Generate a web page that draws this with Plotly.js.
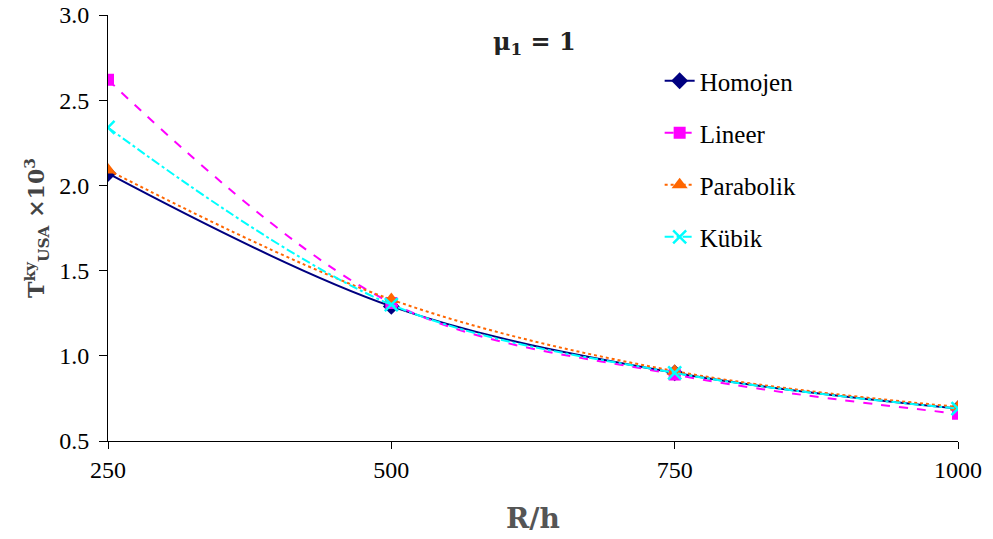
<!DOCTYPE html>
<html><head><meta charset="utf-8">
<script src="https://cdn.plot.ly/plotly-3.0.1.min.js"></script>
<style>html,body{margin:0;padding:0;background:#fff}#chart{width:993px;height:539px}</style>
</head><body><div id="chart"></div>
<script>
const xValues = [250, 500, 750, 1000];
const homojen = [2.07, 1.29, 0.90, 0.69];
const lineer = [2.62, 1.31, 0.89, 0.66];
const parabolik = [2.09, 1.33, 0.91, 0.70];
const kubik = [2.34, 1.30, 0.90, 0.69];
const seriesNames = ['Homojen', 'Lineer', 'Parabolik', 'Kübik'];
const xTicks = [250, 500, 750, 1000];
const yTicks = [0.5, 1.0, 1.5, 2.0, 2.5, 3.0];

const styles = [
  {color:'#000080', dash:'solid', symbol:'diamond', size:13, mline:0},
  {color:'#FF00FF', dash:'dash', symbol:'square', size:12, mline:0},
  {color:'#FF6600', dash:'dot', symbol:'triangle-up', size:14, mline:0},
  {color:'#00FFFF', dash:'dashdot', symbol:'x-thin-open', size:13, mline:2.5}
];
const data = [homojen, lineer, parabolik, kubik].map((ys, i) => ({
  x: xValues, y: ys, name: seriesNames[i], type: 'scatter', mode: 'lines+markers',
  legendgroup: 'g' + i,
  line: {color: styles[i].color, dash: styles[i].dash, width: 2, shape: 'spline', smoothing: 1},
  marker: {color: styles[i].color, symbol: styles[i].symbol, size: styles[i].size,
           line: {color: styles[i].color, width: styles[i].mline}}
}));

const serif = 'Liberation Serif, Times New Roman, serif';
const layout = {
  width: 993, height: 539,
  margin: {l: 108, r: 35, t: 15, b: 98},
  paper_bgcolor: '#fff', plot_bgcolor: '#fff',
  font: {family: serif, color: '#000', size: 24},
  showlegend: true,
  legend: {x: 0.649, y: 0.899, xanchor: 'left', yanchor: 'top', bgcolor: 'rgba(0,0,0,0)',
           font: {size: 25, family: serif}, tracegroupgap: 16.5, traceorder: 'grouped'},
  xaxis: {
    range: [250, 1000], tickvals: xTicks, ticktext: xTicks.map(String),
    showgrid: false, zeroline: false, showline: true, linecolor: '#000', linewidth: 1,
    ticks: 'outside', ticklen: 7, tickcolor: '#000', tickfont: {size: 24, family: serif},
    title: {text: '<b>R/h</b>', font: {size: 28, color: '#555', family: 'DejaVu Serif, serif'}, standoff: 26}
  },
  yaxis: {
    range: [0.5, 3.0], tickvals: yTicks, ticktext: yTicks.map(v => v.toFixed(1)),
    showgrid: false, zeroline: false, showline: true, linecolor: '#000', linewidth: 1,
    ticks: 'outside', ticklen: 8, tickcolor: '#000', tickfont: {size: 24, family: serif},
    ticklabelstandoff: 5,
    title: {text: '<b>T<sup>ky</sup><sub>USA</sub> ×10<sup>3</sup></b>', font: {size: 22, color: '#444', family: 'DejaVu Serif, serif'}, standoff: 8}
  },
  annotations: [{
    xref: 'paper', yref: 'paper', x: 0.502, y: 0.935, xanchor: 'center', yanchor: 'middle',
    text: '<b>μ<sub>1</sub> = 1</b>', showarrow: false,
    font: {size: 24, color: '#222', family: 'DejaVu Serif, serif'}
  }]
};
Plotly.newPlot('chart', data, layout, {displayModeBar: false, staticPlot: true});
</script></body></html>
